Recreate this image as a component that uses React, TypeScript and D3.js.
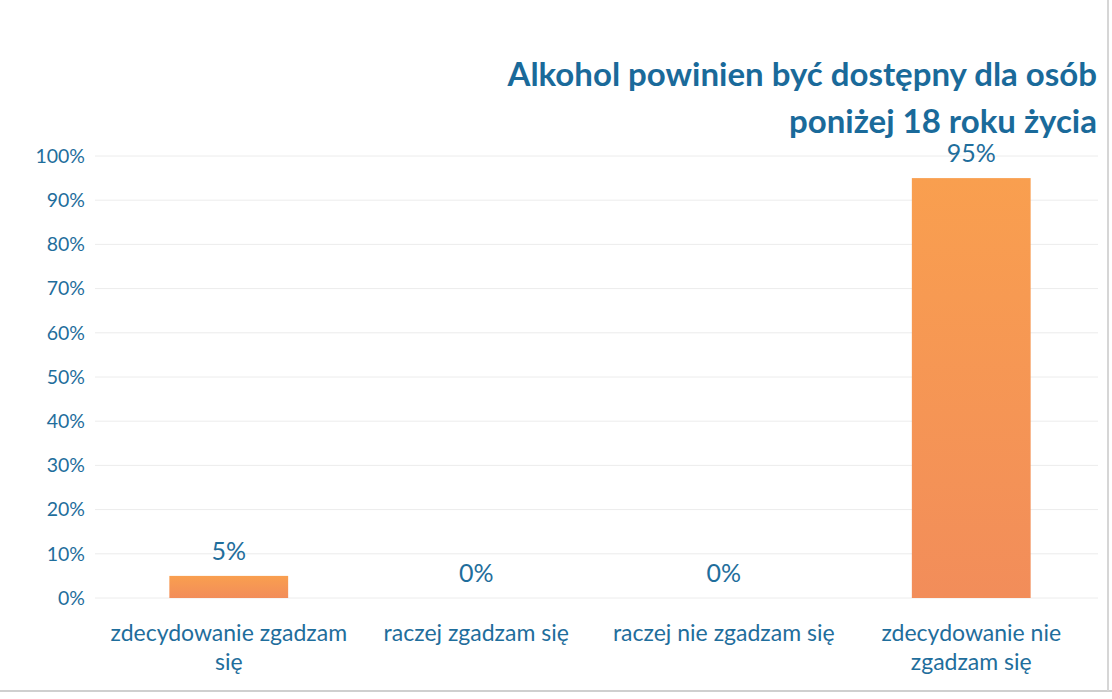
import React from "react";
import * as d3 from "d3";

const categories = [
  ["zdecydowanie zgadzam", "się"],
  ["raczej zgadzam się"],
  ["raczej nie zgadzam się"],
  ["zdecydowanie nie", "zgadzam się"],
];
const values = [5, 0, 0, 95];
const yTicks = [0, 10, 20, 30, 40, 50, 60, 70, 80, 90, 100];
const titleLines = ["Alkohol powinien być dostępny dla osób", "poniżej 18 roku życia"];

const W = 1112;
const H = 699;
const FONT = "Lato, 'Open Sans', sans-serif";
const BLUE = "#1f6e9c";

export default function App() {
  const x = d3
    .scaleBand<number>()
    .domain(categories.map((_, i) => i))
    .range([105, 1095])
    .paddingInner(0.52)
    .paddingOuter(0.26);
  const y = d3.scaleLinear().domain([0, 100]).range([598, 156]);

  return (
    <svg
      width={W}
      height={H}
      style={{ position: "absolute", left: 0, top: 0, background: "#fff" }}
    >
      <defs>
        <linearGradient id="barGrad" x1="0" y1="0" x2="0" y2="1">
          <stop offset="0%" stopColor="#f99f4f" />
          <stop offset="100%" stopColor="#f28d5a" />
        </linearGradient>
      </defs>
      <rect x={0} y={0} width={W} height={H} fill="#fff" />
      <line x1={0} x2={W} y1={691} y2={691} stroke="#cfcfcf" strokeWidth={2} />
      <line x1={1108} x2={1108} y1={0} y2={691} stroke="#d6d6d6" strokeWidth={2} />
      {yTicks.map((t) => (
        <g key={t}>
          <line x1={95} x2={1098} y1={y(t)} y2={y(t)} stroke="#ececec" strokeWidth={1} />
          <text
            x={85}
            y={y(t)}
            dy="0.35em"
            textAnchor="end"
            fontFamily={FONT}
            fontSize={19.5}
            fill={BLUE}
          >
            {t}%
          </text>
        </g>
      ))}
      {values.map((v, i) => {
        const bx = x(i)!;
        const bw = x.bandwidth();
        return (
          <g key={i}>
            {v > 0 && (
              <rect
                x={bx}
                y={y(v)}
                width={bw}
                height={y(0) - y(v)}
                fill="url(#barGrad)"
              />
            )}
            <text
              x={bx + bw / 2}
              y={y(v) - 16}
              textAnchor="middle"
              fontFamily={FONT}
              fontSize={25}
              fill={BLUE}
            >
              {v}%
            </text>
            {categories[i].map((line, j) => (
              <text
                key={j}
                x={bx + bw / 2}
                y={641 + j * 29}
                textAnchor="middle"
                fontFamily={FONT}
                fontSize={23}
                fill={BLUE}
              >
                {line}
              </text>
            ))}
          </g>
        );
      })}
      {titleLines.map((l, i) => (
        <text
          key={i}
          x={1097}
          y={86 + i * 47}
          textAnchor="end"
          fontFamily={FONT}
          fontWeight="bold"
          fontSize={33}
          fill="#1a6a9a"
        >
          {l}
        </text>
      ))}
    </svg>
  );
}
